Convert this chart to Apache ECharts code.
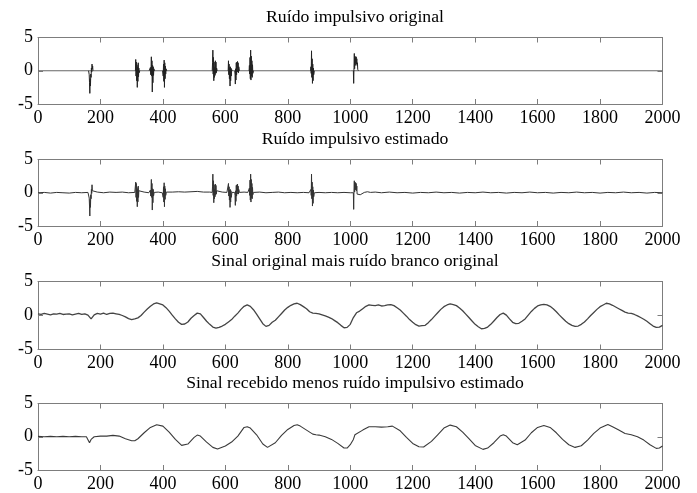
<!DOCTYPE html>
<html>
<head>
<meta charset="utf-8">
<script src="https://cdn.jsdelivr.net/npm/echarts@6/dist/echarts.min.js"></script>
<style>
html,body{margin:0;padding:0;background:#fff;}
#chart{width:697px;height:493px;}
</style>
</head>
<body>
<div id="chart"></div>
<script>
// ---------- DATA ----------
const panelTitles = [
  'Ruído impulsivo original',
  'Ruído impulsivo estimado',
  'Sinal original mais ruído branco original',
  'Sinal recebido menos ruído impulsivo estimado'
];
const xMin = 0, xMax = 2000, xStep = 200;
const yMin = -5, yMax = 5, yStep = 5;

// Panel 1: original impulsive noise — zero baseline plus bursts (sample, value); null separates bursts
const impulseBaseline = [[0,0],[2000,0]];
const impulseOriginal = [
  [162,0],[164,-0.6],[165,-1.8],[166,-3.4],[167,-1.2],[168,-2.3],[169,-0.5],[170,-1.0],[171,0.4],[172,-0.2],[173,1.0],[174,0.3],[175,0.7],[176,0],null,
  [312,0],[313,1.7],[314,-0.8],[315,1.3],[316,-1.5],[317,0.9],[318,-2.5],[319,0.6],[320,-1.6],[321,1.2],[322,-0.9],[323,0.4],[324,-0.3],[326,0],null,
  [356,0],[358,0.3],[359,-0.3],[360,0.5],[361,-0.6],[362,0.2],[363,2.1],[364,-0.8],[365,1.5],[366,-3.2],[367,0.8],[368,-1.8],[369,0.6],[370,-0.7],[371,0.3],[373,0],null,
  [399,0],[401,-0.8],[402,1.0],[403,-1.6],[404,1.6],[405,-2.5],[406,1.2],[407,-1.2],[408,0.7],[409,-0.5],[410,0.3],[412,0],null,
  [558,0],[559,1.2],[560,3.1],[561,-0.5],[562,2.0],[563,-1.5],[564,1.3],[565,-1.0],[566,0.5],[567,-0.7],[568,1.5],[569,-0.4],[570,1.3],[571,-0.3],[572,0.4],[574,0],null,
  [609,0],[610,1.5],[611,-0.6],[612,1.0],[613,-1.2],[614,0.5],[615,-2.3],[616,0.6],[617,-1.5],[618,0.4],[619,-0.8],[620,0.2],[622,0],null,
  [630,0],[631,-0.5],[632,-2.0],[633,0.3],[634,-1.4],[635,1.2],[636,-0.6],[637,1.3],[638,-0.2],[639,1.4],[640,0.4],[641,1.2],[642,-0.3],[643,0.6],[645,0],null,
  [676,0],[677,0.8],[678,-0.5],[679,2.0],[680,-1.2],[681,3.1],[682,-1.4],[683,2.2],[684,-0.8],[685,1.5],[686,-1.0],[687,0.9],[688,-0.4],[690,0],null,
  [873,0],[874,0.6],[875,-0.4],[876,3.0],[877,-1.0],[878,1.8],[879,-1.9],[880,1.0],[881,-1.5],[882,0.4],[883,-0.6],[885,0],null,
  [1010,0],[1011,-1.9],[1012,0.5],[1013,2.6],[1014,0.3],[1015,2.2],[1016,0.8],[1017,2.0],[1018,1.2],[1019,2.1],[1020,1.0],[1021,1.8],[1022,0.8],[1023,1.2],[1024,0.2],[1026,0]
];

// Panel 2: estimated impulsive noise (sample, value)
const impulseEstimated = [
  [0,0.0],[20,0.05],[40,-0.05],[60,0.05],[80,0.0],[100,-0.05],[120,0.05],[140,0.0],[160,0.05],
  [162,0],[164,-0.8],[165,-2.0],[166,-3.5],[167,-1.0],[168,-2.2],[169,-0.3],[170,-0.9],[171,0.5],[172,-0.1],[173,1.2],[174,0.3],[175,0.6],[177,0.05],
  [190,0.1],[210,0.0],[230,0.1],[250,0.05],[270,0.1],[290,0.0],[310,0.05],
  [312,0.0],[313,1.6],[314,-0.7],[315,1.4],[316,-1.3],[317,0.8],[318,-2.1],[319,0.5],[320,-1.4],[321,1.0],[322,-0.7],[323,0.3],[325,0.05],
  [340,0.1],[355,0.0],
  [357,0.1],[359,-0.3],[360,0.4],[361,-0.5],[362,0.2],[363,2.0],[364,-0.7],[365,1.4],[366,-2.6],[367,0.6],[368,-1.5],[369,0.5],[370,-0.5],[372,0.05],
  [385,0.1],[398,0.0],
  [400,0.05],[401,-0.7],[402,0.9],[403,-1.4],[404,1.5],[405,-2.1],[406,1.0],[407,-1.0],[408,0.6],[409,-0.4],[411,0.1],
  [430,0.1],[450,0.15],[470,0.1],[490,0.15],[510,0.2],[530,0.1],[550,0.1],
  [558,0.05],[559,1.0],[560,2.8],[561,-0.4],[562,1.8],[563,-1.5],[564,1.2],[565,-0.9],[566,0.5],[567,-0.6],[568,1.3],[569,-0.3],[570,1.1],[571,-0.2],[572,0.3],[574,0.05],
  [590,0.1],[605,0.05],
  [609,0.05],[610,1.4],[611,-0.5],[612,0.9],[613,-1.1],[614,0.4],[615,-2.2],[616,0.5],[617,-1.4],[618,0.3],[619,-0.7],[621,0.05],
  [626,0.0],
  [630,0.05],[631,-0.4],[632,-1.9],[633,0.3],[634,-1.3],[635,1.1],[636,-0.5],[637,1.2],[638,-0.2],[639,1.3],[640,0.3],[641,1.0],[642,-0.2],[643,0.5],[645,0.05],
  [660,0.1],[672,0.05],
  [676,0.05],[677,0.7],[678,-0.4],[679,1.9],[680,-1.1],[681,2.8],[682,-1.4],[683,2.0],[684,-0.8],[685,1.4],[686,-0.9],[687,0.8],[688,-0.3],[690,0.05],
  [710,0.1],[730,0.0],[750,0.05],[770,0.1],[790,0.0],[810,0.05],[830,0.0],[850,0.05],[868,0.0],
  [873,0.0],[874,0.5],[875,-0.4],[876,2.8],[877,-0.9],[878,1.6],[879,-2.0],[880,0.9],[881,-1.6],[882,0.4],[883,-0.6],[885,0.0],
  [900,0.05],[920,0.0],[940,0.05],[960,0.0],[980,0.05],[1000,0.0],
  [1010,0.0],[1011,-2.5],[1012,0.4],[1013,1.8],[1014,0.1],[1015,1.6],[1016,0.4],[1017,1.5],[1018,0.6],[1019,1.4],[1020,0.3],[1021,1.0],[1022,-0.2],[1024,-0.3],[1027,-0.5],[1032,-0.3],[1038,-0.1],[1045,0.05],[1055,0.15],[1065,0.05],[1080,0.1],
  [1100,0.0],[1125,0.1],[1150,0.0],[1175,0.05],[1200,-0.05],[1225,0.05],[1250,0.0],[1275,0.1],[1300,0.0],[1325,0.05],[1350,-0.05],[1375,0.05],[1400,0.0],
  [1425,0.1],[1450,0.0],[1475,0.05],[1500,-0.05],[1525,0.05],[1550,0.0],[1575,0.1],[1600,0.0],[1625,0.05],[1650,-0.05],[1675,0.05],[1700,0.0],
  [1725,0.1],[1750,0.0],[1775,0.05],[1800,-0.05],[1825,0.05],[1850,0.0],[1875,0.1],[1900,0.0],[1925,0.05],[1950,-0.05],[1975,0.05],[2000,0.0]
];

// Panel 3: original signal plus white noise, one value every 10 samples
const noisySampleStep = 10;
const signalNoisy = [
  0.25,0.15,0.3,0.2,0.1,0.25,0.2,0.3,0.15,0.2,
  0.25,0.1,0.2,0.3,0.15,0.25,0.05,-0.5,0.1,0.3,
  0.2,0.35,0.15,0.3,0.35,0.25,0.15,0.0,-0.2,-0.45,
  -0.6,-0.5,-0.35,0.0,0.5,0.95,1.35,1.7,1.85,1.7,
  1.55,1.15,0.65,0.05,-0.5,-1.0,-1.3,-1.25,-0.95,-0.4,
  0.0,0.35,0.25,-0.3,-0.85,-1.3,-1.7,-1.85,-1.75,-1.55,
  -1.3,-0.95,-0.6,-0.1,0.35,0.9,1.35,1.55,1.35,0.85,
  0.2,-0.5,-1.2,-1.6,-1.45,-1.0,-0.7,-0.2,0.3,0.8,
  1.2,1.5,1.7,1.8,1.6,1.3,1.0,0.55,0.35,0.3,
  0.25,0.1,-0.05,-0.25,-0.45,-0.75,-1.05,-1.45,-1.8,-1.75,
  -1.3,-0.3,0.4,0.65,1.0,1.35,1.55,1.5,1.45,1.55,
  1.4,1.45,1.55,1.6,1.45,1.15,0.8,0.35,-0.1,-0.6,
  -1.0,-1.35,-1.55,-1.5,-1.45,-1.05,-0.6,-0.1,0.4,0.9,
  1.3,1.55,1.7,1.6,1.45,1.1,0.7,0.2,-0.3,-0.8,
  -1.3,-1.65,-1.95,-1.9,-1.7,-1.3,-0.8,-0.3,0.15,0.35,
  0.05,-0.5,-1.0,-1.2,-1.15,-0.85,-0.5,0.05,0.6,1.05,
  1.4,1.55,1.65,1.55,1.35,1.0,0.55,0.05,-0.4,-0.85,
  -1.2,-1.45,-1.6,-1.55,-1.3,-0.95,-0.5,0.0,0.45,0.9,
  1.3,1.55,1.8,1.7,1.5,1.25,1.0,0.75,0.5,0.35,
  0.3,0.15,-0.05,-0.3,-0.55,-0.85,-1.2,-1.55,-1.75,-1.7,
  -1.45
];

// Panel 4: received signal minus estimated impulsive noise (sample, value)
const signalRecovered = [
  [0,0.05],[20,0.0],[40,0.05],[60,0.0],[80,0.05],[100,0.0],[120,0.05],[140,0.0],[155,0.0],[160,-0.2],[165,-0.9],[170,-0.4],[180,0.0],
  [200,0.1],[220,0.1],[240,0.2],[260,0.1],[280,-0.3],[300,-0.6],[310,-0.6],[320,-0.3],[340,0.6],[360,1.4],[380,1.8],[400,1.6],
  [420,0.7],[440,-0.4],[460,-1.3],[480,-1.1],[500,-0.1],[510,0.25],[520,0.1],[540,-0.8],[560,-1.6],[575,-1.85],[600,-1.4],
  [620,-0.8],[640,0.1],[660,1.4],[670,1.5],[680,1.3],[700,0.3],[720,-1.1],[735,-1.6],[760,-0.9],[780,0.2],[800,1.1],
  [820,1.7],[830,1.8],[840,1.6],[860,1.0],[880,0.4],[890,0.3],[900,0.25],[920,0.0],[940,-0.4],[960,-1.0],[980,-1.7],
  [990,-1.7],[1000,-1.2],[1010,-0.4],[1015,0.3],[1020,0.6],[1040,1.0],[1060,1.5],[1080,1.5],[1100,1.45],[1120,1.5],
  [1135,1.6],[1160,0.9],[1180,-0.1],[1200,-1.0],[1220,-1.5],[1235,-1.55],[1260,-0.7],[1280,0.3],[1300,1.3],[1320,1.75],
  [1340,1.5],[1360,0.7],[1380,-0.3],[1400,-1.3],[1425,-1.9],[1440,-1.7],[1460,-0.9],[1480,0.1],[1490,0.3],[1500,0.1],
  [1520,-0.9],[1535,-1.2],[1560,-0.5],[1580,0.6],[1600,1.4],[1620,1.7],[1640,1.4],[1660,0.6],[1680,-0.4],[1700,-1.2],
  [1720,-1.6],[1740,-1.35],[1760,-0.5],[1780,0.5],[1800,1.3],[1825,1.85],[1840,1.5],[1860,1.0],[1880,0.5],[1900,0.3],
  [1920,0.0],[1940,-0.5],[1960,-1.2],[1980,-1.75],[1990,-1.7],[2000,-1.4]
];

// ---------- CHART ----------
const FONT = "'Liberation Serif','Times New Roman',serif";
const AX = '#7d7d7d';
const panels = [
  {top: 37.5, height: 66.5, titleTop: 3},
  {top: 159.5, height: 66.5, titleTop: 125},
  {top: 281.5, height: 68, titleTop: 247},
  {top: 403.5, height: 69, titleTop: 369}
];
const noisyPairs = signalNoisy.map((v, i) => [i * noisySampleStep, v]);
// per panel: list of [data, colour, width]
const seriesData = [
  [[impulseBaseline, '#666', 1], [impulseOriginal, '#222', 1]],
  [[impulseEstimated, '#333', 1]],
  [[noisyPairs, '#444', 1.3]],
  [[signalRecovered, '#3a3a3a', 1.1]]
];

const grid = [], xAxis = [], yAxis = [], series = [], title = [];
panels.forEach((p, i) => {
  grid.push({left: 38, width: 624.5, top: p.top, height: p.height, containLabel: false});
  title.push({
    text: panelTitles[i], left: 350, top: p.titleTop, textAlign: 'center',
    textStyle: {fontFamily: FONT, fontSize: 17.7, fontWeight: 'normal', color: '#000'}
  });
  const baseX = {
    gridIndex: i, type: 'value', min: xMin, max: xMax, interval: xStep,
    axisLine: {show: true, onZero: false, lineStyle: {color: AX, width: 1}},
    axisTick: {show: true, inside: true, length: 5, lineStyle: {color: AX}},
    splitLine: {show: false}
  };
  xAxis.push(Object.assign({}, baseX, {
    position: 'bottom',
    axisLabel: {show: true, fontFamily: FONT, fontSize: 18, color: '#000', margin: 5,
      formatter: v => String(v)}
  }));
  xAxis.push(Object.assign({}, baseX, {position: 'top', axisLabel: {show: false}}));
  const baseY = {
    gridIndex: i, type: 'value', min: yMin, max: yMax, interval: yStep,
    axisLine: {show: true, onZero: false, lineStyle: {color: AX, width: 1}},
    axisTick: {show: true, inside: true, length: 5, lineStyle: {color: AX}},
    splitLine: {show: false}
  };
  yAxis.push(Object.assign({}, baseY, {
    position: 'left',
    axisLabel: {show: true, fontFamily: FONT, fontSize: 18, color: '#000', margin: 5,
      padding: [4, 0, 0, 0], formatter: v => String(v)}
  }));
  yAxis.push(Object.assign({}, baseY, {position: 'right', axisLabel: {show: false}}));
  seriesData[i].forEach(([d, col, w]) => {
    series.push({
      type: 'line', xAxisIndex: 2 * i, yAxisIndex: 2 * i,
      data: d, showSymbol: false, symbol: 'none', connectNulls: false,
      lineStyle: {color: col, width: w}, silent: true, animation: false
    });
  });
});

const chart = echarts.init(document.getElementById('chart'), null, {renderer: 'canvas'});
chart.setOption({
  animation: false,
  backgroundColor: '#fff',
  title, grid, xAxis, yAxis, series
});
</script>
</body>
</html>
